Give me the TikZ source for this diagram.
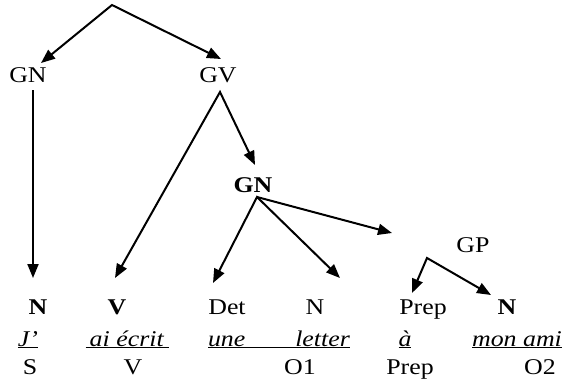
\documentclass[tikz,border=0pt]{standalone}
\usepackage{fontspec}
\setmainfont{Liberation Serif}[FakeStretch=1.15]
\usetikzlibrary{arrows.meta}
\newcommand{\ulbox}[2]{\underline{\makebox[#1]{#2}}}
\begin{document}
\begin{tikzpicture}[x=1pt,y=-1pt,
  lbl/.style={font=\fontsize{22.5}{24}\selectfont, inner sep=0pt, anchor=base},
  arr/.style={line width=2pt, line join=miter, -{Triangle[length=14pt,width=11pt]}},
  arr2/.style={line width=2pt, line join=miter, {Triangle[length=14pt,width=11pt]}-{Triangle[length=14pt,width=11pt]}}]
\useasboundingbox (0,0) rectangle (578,381);

% upper level
\coordinate (top) at (112,5);
\coordinate (gnTip) at (41,63);
\coordinate (gvTip) at (221,59);
\node[lbl] (gn) at (28,82) {GN};
\node[lbl] (gv) at (218,82) {GV};

\coordinate (gnBot) at (33,90);
\coordinate (nTip) at (33,278);
\coordinate (gvApex) at (220,92);
\coordinate (vTip) at (115,278);
\coordinate (gnbTip) at (255,165);

\node[lbl] (gnb) at (253,192) {\textbf{GN}};
\coordinate (gnbApex) at (257,197);
\coordinate (detTip) at (213,283);
\coordinate (n2Tip) at (340,278);
\coordinate (gpTip) at (392,233);

\node[lbl] (gp) at (473,252) {GP};
\coordinate (gpApex) at (427,258);
\coordinate (prepTip) at (412,293);
\coordinate (n3Tip) at (491,295);

% row 1
\node[lbl] (r1a) at (38,314) {\textbf{N}};
\node[lbl] (r1b) at (117,314) {\textbf{V}};
\node[lbl] (r1c) at (227,314) {Det};
\node[lbl] (r1d) at (315,314) {N};
\node[lbl] (r1e) at (423,314) {Prep};
\node[lbl] (r1f) at (507,314) {\textbf{N}};

% row 2
\node[lbl] (r2a) at (28,346) {\underline{\textit{J’}}};
\node[lbl] (r2b) at (127,346) {\ulbox{83pt}{\textit{ai écrit}}};
\node[lbl] (r2c) at (279,346) {\underline{\makebox[142pt][s]{\textit{une}\hfill\textit{letter}}}};
\node[lbl] (r2d) at (405,346) {\underline{\textit{à}}};
\node[lbl] (r2e) at (517,346) {\underline{\textit{mon ami}}};

% row 3
\node[lbl] (r3a) at (30,374) {S};
\node[lbl] (r3b) at (133,374) {V};
\node[lbl] (r3c) at (300,374) {O1};
\node[lbl] (r3d) at (410,374) {Prep};
\node[lbl] (r3e) at (540,374) {O2};

% connectors
\draw[arr2] (gnTip) -- (top) -- (gvTip);
\draw[arr] (gnBot) -- (nTip);
\draw[arr2] (vTip) -- (gvApex) -- (gnbTip);
\draw[arr2] (detTip) -- (gnbApex) -- (n2Tip);
\draw[arr] (gnbApex) -- (gpTip);
\draw[arr2] (prepTip) -- (gpApex) -- (n3Tip);
\end{tikzpicture}
\end{document}
